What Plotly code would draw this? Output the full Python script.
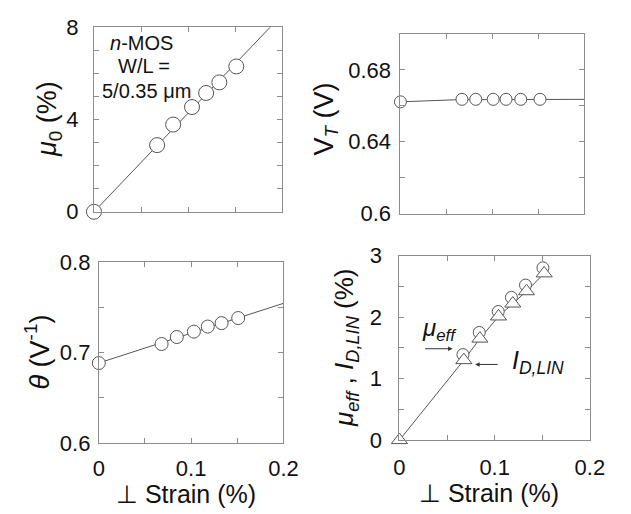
import plotly.graph_objects as go

# ---------------- data ----------------
strain = [0.0, 0.067, 0.084, 0.104, 0.119, 0.133, 0.151]

mu0 = [0.0, 2.89, 3.78, 4.54, 5.15, 5.61, 6.30]
mu0_fit_x = [0.0, 0.2]
mu0_fit_y = [0.0, 8.56]

vt_strain = [0.0, 0.067, 0.082, 0.101, 0.115, 0.131, 0.152]
vt = [0.6622, 0.6636, 0.6636, 0.6636, 0.6636, 0.6636, 0.6636]
vt_fit_x = [0.0, 0.062, 0.2]
vt_fit_y = [0.6622, 0.6634, 0.6636]

theta_strain = [0.0, 0.068, 0.0845, 0.103, 0.118, 0.133, 0.151]
theta = [0.6884, 0.7095, 0.7172, 0.7232, 0.7288, 0.7326, 0.7382]
theta_fit_x = [0.0, 0.2]
theta_fit_y = [0.6885, 0.7545]

mueff_strain = [0.0667, 0.0838, 0.1037, 0.1176, 0.1324, 0.1507]
mueff = [1.39, 1.75, 2.09, 2.32, 2.52, 2.80]
idlin_strain = [0.0, 0.0676, 0.0845, 0.104, 0.119, 0.1334, 0.152]
idlin = [0.0, 1.30, 1.65, 2.01, 2.22, 2.42, 2.71]

x_ticks = [0, 0.05, 0.1, 0.15, 0.2]
x_text_bottom = ['0', '', '0.1', '', '0.2']
x_text_top = ['', '', '', '', '']
mu0_ticks = [0, 1, 2, 3, 4, 5, 6, 7, 8]
mu0_text = ['0', '', '', '', '4', '', '', '', '8']
vt_ticks = [0.6, 0.62, 0.64, 0.66, 0.68, 0.70]
vt_text = ['0.6', '', '0.64', '', '0.68', '']
theta_ticks = [0.6, 0.65, 0.7, 0.75, 0.8]
theta_text = ['0.6', '', '0.7', '', '0.8']
eff_ticks = [0, 0.5, 1, 1.5, 2, 2.5, 3]
eff_text = ['0', '', '1', '', '2', '', '3']

# ---------------- style ----------------
W, H = 631, 514
FONT = "Liberation Sans, Arial, sans-serif"
AXC = "#8c8c8c"
LC = "#555555"
MC = "#555555"

def px(x):
    return x / W

def py(y):
    return 1 - y / H

fig = go.Figure()

def line_trace(x, y, xa, ya):
    fig.add_trace(go.Scatter(x=x, y=y, mode="lines", xaxis=xa, yaxis=ya,
                             line=dict(color=LC, width=1), showlegend=False,
                             hoverinfo="skip"))

def mark_trace(x, y, xa, ya, size, symbol="circle"):
    fig.add_trace(go.Scatter(x=x, y=y, mode="markers", xaxis=xa, yaxis=ya,
                             cliponaxis=False, showlegend=False,
                             marker=dict(symbol=symbol, size=size, color="white",
                                         line=dict(color=MC, width=1))))

# top-left
line_trace(mu0_fit_x, mu0_fit_y, "x", "y")
mark_trace(strain, mu0, "x", "y", 15)
# top-right
line_trace(vt_fit_x, vt_fit_y, "x2", "y2")
mark_trace(vt_strain, vt, "x2", "y2", 12)
# bottom-left
line_trace(theta_fit_x, theta_fit_y, "x3", "y3")
mark_trace(theta_strain, theta, "x3", "y3", 13)
# bottom-right
line_trace(idlin_strain, idlin, "x4", "y4")
mark_trace(mueff_strain, mueff, "x4", "y4", 12)
mark_trace(idlin_strain, idlin, "x4", "y4", 14, "triangle-up")

TICKSIZE = 22

def xaxis(domain, anchor, text, standoff):
    return dict(domain=domain, anchor=anchor, range=[0, 0.2], tickmode="array",
                tickvals=x_ticks, ticktext=text, ticks="inside", ticklen=5,
                tickcolor=AXC, showline=True, linecolor=AXC, linewidth=1,
                mirror="allticks", showgrid=False, zeroline=False,
                tickfont=dict(family=FONT, size=TICKSIZE, color="#111"),
                ticklabelstandoff=standoff)

def yaxis(domain, anchor, rng, vals, text, standoff):
    return dict(domain=domain, anchor=anchor, range=rng, tickmode="array",
                tickvals=vals, ticktext=text, ticks="inside", ticklen=5,
                tickcolor=AXC, showline=True, linecolor=AXC, linewidth=1,
                mirror="allticks", showgrid=False, zeroline=False,
                tickfont=dict(family=FONT, size=TICKSIZE, color="#111"),
                ticklabelstandoff=standoff)

fig.update_layout(
    width=W, height=H, margin=dict(l=0, r=0, t=0, b=0),
    paper_bgcolor="white", plot_bgcolor="white", showlegend=False,
    xaxis=xaxis([px(91), px(286)], "y", x_text_top, 0),
    yaxis=yaxis([py(210), py(16)], "x", [0, 8], mu0_ticks, mu0_text, 10),
    xaxis2=xaxis([px(408), px(598)], "y2", x_text_top, 0),
    yaxis2=yaxis([py(212), py(23)], "x2", [0.6, 0.7], vt_ticks, vt_text, 4),
    xaxis3=xaxis([px(96), px(287)], "y3", x_text_bottom, 6),
    yaxis3=yaxis([py(453), py(263)], "x3", [0.6, 0.8], theta_ticks, theta_text, 3),
    xaxis4=xaxis([px(407), px(604)], "y4", x_text_bottom, 7),
    yaxis4=yaxis([py(450), py(256)], "x4", [0, 3], eff_ticks, eff_text, 12),
)

ann = []

def text_ann(x, y, text, size=23, angle=0):
    ann.append(dict(x=px(x), y=py(y), xref="paper", yref="paper", text=text,
                    showarrow=False, textangle=angle, xanchor="center",
                    yanchor="middle", font=dict(family=FONT, size=size, color="#111")))

# axis titles
text_ann(44, 113, "<i>μ</i><sub>0</sub> (%)", 27, -90)
text_ann(330, 113, "V<sub><i>T</i></sub> (V)", 27, -90)
text_ann(32, 357, "<i>θ</i> (V<sup>-1</sup>)", 27, -90)
text_ann(352, 353, "<i>μ</i><sub><i>eff</i></sub> , <i>I</i><sub><i>D,LIN</i></sub> (%)", 26, -90)
text_ann(186, 507, "⊥ Strain (%)", 25)
text_ann(500, 506, "⊥ Strain (%)", 25)

# device info
text_ann(140, 33, "<i>n</i>-MOS", 20)
text_ann(143, 57, "W/L =", 20)
text_ann(145, 83, "5/0.35 μm", 20)

# labels with arrows in bottom-right panel
text_ann(448, 334, "<i>μ</i><sub><i>eff</i></sub>", 24)
text_ann(550, 368, "<i>I</i><sub><i>D,LIN</i></sub>", 25)

def arrow(x_head, y_head, dx, xa, ya):
    ann.append(dict(x=x_head, y=y_head, xref=xa, yref=ya, ax=dx, ay=0,
                    axref="pixel", ayref="pixel", text="", showarrow=True,
                    arrowhead=2, arrowsize=0.9, arrowwidth=1, arrowcolor="#333"))

arrow(0.0558, 1.485, -29, "x4", "y4")
arrow(0.0795, 1.23, 24, "x4", "y4")

fig.update_layout(annotations=ann)

fig.write_html("out.html")
